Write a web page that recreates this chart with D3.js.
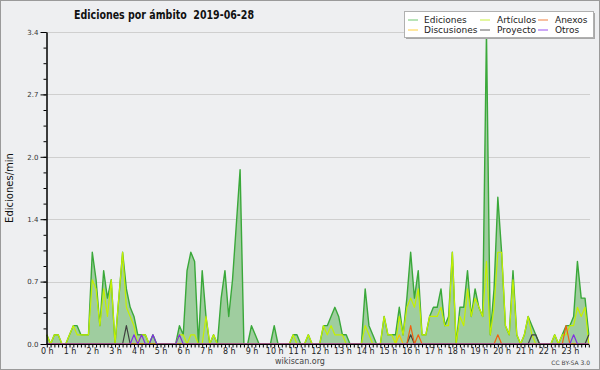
<!DOCTYPE html>
<html>
<head>
<meta charset="utf-8">
<script src="https://cdn.jsdelivr.net/npm/d3@7"></script>
<style>
  body { margin: 0; background: #fff; }
  svg { display: block; }
  text { font-family: "DejaVu Sans", sans-serif; }
</style>
</head>
<body>
<div id="chart"></div>
<script>
// 10 minute slots, 144 per day (values are edits per minute)
const ediciones = [
  0.1, 0, 0.1, 0.1, 0, 0, 0.1, 0.2, 0.2, 0.1, 0.1, 0.1,
  1.0, 0.7, 0.2, 0.8, 0.5, 0.7, 0, 0.5, 1.0, 0.6, 0.4, 0.3,
  0.1, 0.1, 0.1, 0, 0.1, 0, 0, 0, 0, 0, 0, 0.2,
  0.1, 0.8, 1.0, 0.9, 0, 0.8, 0.3, 0, 0.1, 0, 0.5, 0.8,
  0.3, 0.7, 1.3, 1.9, 0, 0, 0.2, 0.1, 0, 0, 0, 0,
  0.2, 0, 0, 0, 0, 0.1, 0.1, 0, 0, 0.1, 0, 0,
  0, 0.2, 0.2, 0.3, 0.4, 0.3, 0.1, 0.1, 0, 0, 0, 0,
  0.6, 0.2, 0.1, 0, 0, 0.3, 0.1, 0.1, 0.1, 0.4, 0.1, 0.5,
  1.0, 0.5, 0.8, 0.1, 0.1, 0.3, 0.4, 0.4, 0.6, 0.2, 0.3, 1.0,
  0, 0.4, 0.4, 0.8, 0.3, 0.6, 0.4, 0.3, 3.4, 0.1, 0.6, 1.6,
  1.0, 0.2, 0.1, 0.8, 0.1, 0, 0.1, 0.3, 0.2, 0.1, 0, 0,
  0, 0, 0.1, 0, 0.1, 0.2, 0.2, 0.3, 0.9, 0.5, 0.5, 0.1
];
const articulos = [
  0.1, 0, 0.1, 0.1, 0, 0, 0.1, 0.2, 0.1, 0.1, 0.1, 0.1,
  0.7, 0.6, 0.2, 0.6, 0.3, 0.7, 0, 0.5, 1.0, 0.4, 0.3, 0.2,
  0, 0.1, 0.1, 0, 0, 0, 0, 0, 0, 0, 0, 0.1,
  0.1, 0, 0.1, 0.1, 0, 0, 0.3, 0, 0.1, 0, 0, 0,
  0, 0, 0, 0, 0, 0, 0, 0, 0, 0, 0, 0,
  0, 0, 0, 0, 0, 0.1, 0, 0, 0, 0.1, 0, 0,
  0, 0.2, 0.1, 0.2, 0.1, 0.1, 0.1, 0, 0, 0, 0, 0,
  0.2, 0.1, 0, 0, 0, 0.3, 0.1, 0.1, 0, 0.3, 0.1, 0.4,
  0.5, 0.4, 0.6, 0.1, 0.1, 0.3, 0.3, 0.3, 0.4, 0.2, 0.2, 1.0,
  0, 0.3, 0.2, 0.6, 0.3, 0.5, 0.4, 0.3, 0.9, 0.1, 0.4, 1.0,
  1.0, 0.2, 0.1, 0.7, 0.1, 0, 0.1, 0.3, 0.1, 0, 0, 0,
  0, 0, 0.1, 0, 0.1, 0.1, 0.2, 0.2, 0.4, 0.3, 0.4, 0
];
const discusiones = [
  0, 0, 0, 0, 0, 0, 0, 0, 0, 0, 0, 0,
  0, 0, 0, 0, 0, 0, 0, 0, 0, 0, 0, 0,
  0, 0, 0, 0, 0, 0, 0, 0, 0, 0, 0, 0,
  0, 0, 0, 0, 0, 0, 0, 0, 0, 0, 0, 0,
  0, 0, 0, 0, 0, 0, 0, 0, 0, 0, 0, 0,
  0, 0, 0, 0, 0, 0, 0, 0, 0, 0, 0, 0,
  0, 0, 0, 0, 0, 0, 0, 0, 0, 0, 0, 0,
  0, 0, 0, 0, 0, 0, 0, 0, 0, 0.1, 0, 0,
  0, 0, 0, 0, 0, 0, 0, 0, 0, 0, 0, 0,
  0, 0, 0, 0, 0, 0, 0, 0, 0, 0, 0, 0,
  0, 0, 0, 0, 0, 0, 0, 0, 0, 0, 0, 0,
  0, 0, 0, 0, 0, 0, 0, 0, 0, 0, 0, 0
];
const anexos = [
  0, 0, 0, 0, 0, 0, 0, 0, 0, 0, 0, 0,
  0, 0, 0, 0, 0, 0, 0, 0, 0, 0, 0, 0,
  0, 0, 0, 0, 0, 0, 0, 0, 0, 0, 0, 0,
  0, 0, 0, 0, 0, 0, 0, 0, 0, 0, 0, 0,
  0, 0, 0, 0, 0, 0, 0, 0, 0, 0, 0, 0,
  0, 0, 0, 0, 0, 0, 0, 0, 0, 0, 0, 0,
  0, 0, 0, 0, 0, 0, 0, 0, 0, 0, 0, 0,
  0, 0, 0, 0, 0, 0, 0, 0, 0, 0, 0, 0,
  0.2, 0, 0.1, 0, 0, 0, 0, 0, 0, 0, 0, 0,
  0, 0, 0, 0, 0, 0, 0, 0, 0, 0, 0, 0.1,
  0, 0, 0, 0, 0, 0, 0, 0, 0, 0, 0, 0,
  0, 0, 0, 0, 0, 0.2, 0, 0, 0, 0, 0, 0
];
const proyecto = [
  0, 0, 0, 0, 0, 0, 0, 0, 0, 0, 0, 0,
  0, 0, 0, 0, 0, 0, 0, 0, 0, 0.2, 0, 0,
  0, 0, 0, 0, 0, 0, 0, 0, 0, 0, 0, 0,
  0, 0, 0, 0, 0, 0, 0, 0, 0, 0, 0, 0,
  0, 0, 0, 0, 0, 0, 0, 0, 0, 0, 0, 0,
  0, 0, 0, 0, 0, 0, 0, 0, 0, 0, 0, 0,
  0, 0, 0, 0, 0, 0, 0, 0, 0, 0, 0, 0,
  0, 0, 0, 0, 0, 0, 0, 0, 0, 0, 0, 0,
  0.1, 0, 0, 0, 0, 0, 0, 0, 0, 0, 0, 0,
  0, 0, 0, 0, 0, 0, 0, 0, 0, 0, 0, 0,
  0, 0, 0, 0, 0, 0, 0, 0, 0.1, 0.1, 0, 0,
  0, 0, 0, 0, 0, 0, 0, 0, 0, 0, 0, 0.1
];
const otros = [
  0, 0, 0, 0, 0, 0, 0, 0, 0, 0, 0, 0,
  0, 0, 0, 0, 0, 0, 0, 0, 0, 0, 0, 0.1,
  0, 0.1, 0, 0, 0.1, 0, 0, 0, 0, 0, 0, 0.1,
  0, 0, 0, 0, 0, 0, 0, 0, 0, 0, 0, 0,
  0, 0, 0, 0, 0, 0, 0, 0, 0, 0, 0, 0,
  0, 0, 0, 0, 0, 0, 0, 0, 0, 0, 0, 0,
  0, 0, 0, 0, 0, 0, 0, 0, 0, 0, 0, 0,
  0, 0, 0, 0, 0, 0, 0, 0, 0, 0, 0, 0,
  0, 0, 0, 0, 0, 0, 0, 0, 0, 0, 0, 0,
  0, 0, 0, 0, 0, 0, 0, 0, 0, 0, 0, 0,
  0, 0, 0, 0, 0, 0, 0, 0, 0, 0, 0, 0,
  0, 0, 0, 0, 0, 0, 0, 0.1, 0, 0, 0, 0
];

const hourLabels = ["0 h", "1 h", "2 h", "3 h", "4 h", "5 h", "6 h", "7 h", "8 h", "9 h", "10 h", "11 h",
  "12 h", "13 h", "14 h", "15 h", "16 h", "17 h", "18 h", "19 h", "20 h", "21 h", "22 h", "23 h"];
const yTicks = [0, 0.68, 1.36, 2.04, 2.72, 3.4];
const yTickLabels = ["0.0", "0.7", "1.4", "2.0", "2.7", "3.4"];

const series = [
  { name: "Ediciones", values: ediciones, color: "#3aa83a", legend: "#70c870" },
  { name: "Discusiones", values: discusiones, color: "#f5c400", legend: "#ffd040" },
  { name: "Artículos", values: articulos, color: "#c4f000", legend: "#c8f040" },
  { name: "Proyecto", values: proyecto, color: "#404040", legend: "#606060" },
  { name: "Anexos", values: anexos, color: "#f06010", legend: "#f08040" },
  { name: "Otros", values: otros, color: "#8030e0", legend: "#9a50f0" }
];

const width = 600, height = 370;

const svg = d3.select("#chart").append("svg")
  .attr("width", width)
  .attr("height", height);

svg.append("rect")
  .attr("x", 0.5).attr("y", 0.5)
  .attr("width", width - 1).attr("height", height - 1)
  .attr("fill", "#eeeff1")
  .attr("stroke", "#9a9a9a");

let x = d3.scaleLinear().domain([0, 143]).range([46.8, 588.8]);
let y = d3.scaleLinear().domain([0, 3.4]).range([344, 32]);

// grid
svg.append("g")
  .selectAll("line")
  .data(yTicks.slice(1))
  .enter()
  .append("line")
  .attr("x1", 47).attr("x2", 590)
  .attr("y1", d => Math.round(y(d)) + 0.5)
  .attr("y2", d => Math.round(y(d)) + 0.5)
  .attr("stroke", "#cfcfcf");

// Ediciones area + line
let area = d3.area()
  .x((d, i) => x(i))
  .y0(y(0))
  .y1(d => y(d));
let line = d3.line()
  .x((d, i) => x(i))
  .y(d => y(d));

svg.append("path")
  .attr("d", area(ediciones))
  .attr("fill", "#9fcd9f");

// other series first get drawn below? no: total line, then namespaces on top
series.forEach(s => {
  svg.append("path")
    .attr("d", line(s.values))
    .attr("fill", "none")
    .attr("stroke", s.color)
    .attr("stroke-width", s.name === "Ediciones" ? 1.4 : 1.2)
    .attr("stroke-linejoin", "round");
});

// y axis
let yAxis = d3.axisLeft(y)
  .tickValues(yTicks)
  .tickSize(6)
  .tickSizeOuter(0)
  .tickFormat((d, i) => yTickLabels[i]);
let yMinor = d3.axisLeft(y)
  .tickValues(d3.range(0, 3.41, 0.17))
  .tickSize(3)
  .tickSizeOuter(0)
  .tickFormat("");

let gy = svg.append("g").attr("transform", "translate(46.5,0)").call(yAxis);
svg.append("g").attr("transform", "translate(46.5,0)").call(yMinor);
gy.selectAll("text")
  .attr("font-family", "DejaVu Sans")
  .attr("font-size", 7)
  .attr("fill", "#333")
  .attr("x", -8);

// x axis
let xAxis = d3.axisBottom(x)
  .tickValues(d3.range(144))
  .tickSize(3)
  .tickSizeOuter(0)
  .tickFormat(i => i % 6 === 0 ? hourLabels[i / 6] : "");
let gx = svg.append("g").attr("transform", "translate(0,344.5)").call(xAxis);
gx.select(".domain").attr("d", "M46.5,0H589");
gx.selectAll("text")
  .attr("font-family", "DejaVu Sans")
  .attr("font-size", 8)
  .attr("fill", "#222")
  .attr("y", 3)
  .attr("dy", "0.75em");
svg.selectAll(".domain, .tick line").attr("stroke", "#000");

// y label
svg.append("text")
  .attr("transform", "translate(13,188) rotate(-90)")
  .attr("text-anchor", "middle")
  .attr("font-family", "DejaVu Sans Mono")
  .attr("font-size", 10)
  .attr("fill", "#111")
  .text("Ediciones/min");

// title
svg.append("text")
  .attr("x", 74).attr("y", 19)
  .attr("font-weight", "bold")
  .attr("font-size", 12)
  .attr("textLength", 180)
  .attr("lengthAdjust", "spacingAndGlyphs")
  .attr("fill", "#111")
  .style("white-space", "pre")
  .text("Ediciones por ámbito  2019-06-28");

// footer
svg.append("text")
  .attr("x", 300).attr("y", 364)
  .attr("text-anchor", "middle")
  .attr("font-size", 8)
  .attr("fill", "#444")
  .text("wikiscan.org");
svg.append("text")
  .attr("x", 590).attr("y", 365)
  .attr("text-anchor", "end")
  .attr("font-size", 6)
  .attr("fill", "#444")
  .text("CC BY-SA 3.0");

// legend
let legend = svg.append("g").attr("transform", "translate(404,11)");
legend.append("rect")
  .attr("x", 2).attr("y", 2).attr("width", 189).attr("height", 26)
  .attr("fill", "#a8a8a8");
legend.append("rect")
  .attr("x", 0.5).attr("y", 0.5).attr("width", 189).attr("height", 26)
  .attr("fill", "#fff").attr("stroke", "#b0b0b0");

let colX = [[4, 20], [76, 93], [134, 151]];
legend.selectAll("g.item")
  .data(series)
  .enter()
  .append("g")
  .attr("class", "item")
  .each(function (d, i) {
    let col = Math.floor(i / 2), row = i % 2;
    let g = d3.select(this);
    let ly = 9 + row * 10;
    g.append("line")
      .attr("x1", colX[col][0]).attr("x2", colX[col][0] + 10)
      .attr("y1", ly).attr("y2", ly)
      .attr("stroke", d.legend);
    g.append("text")
      .attr("x", colX[col][1]).attr("y", ly + 3.3)
      .attr("font-size", 9)
      .attr("fill", "#222")
      .text(d.name);
  });
</script>
</body>
</html>
